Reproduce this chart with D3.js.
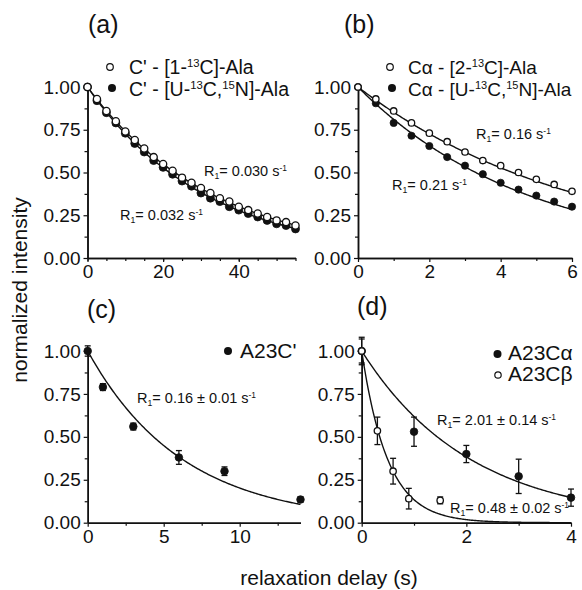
<!DOCTYPE html>
<html><head><meta charset="utf-8">
<script src="https://cdn.jsdelivr.net/npm/d3@7"></script>
<style>
body{margin:0;background:#fff}
svg{display:block}
text{font-family:"Liberation Sans",Arial,Helvetica,sans-serif;fill:#111}
</style>
</head><body>
<svg id="chart" width="582" height="590"></svg>
<script>
// ---------- data ----------
const tA = [0,2.5,5,7.5,10,12.5,15,17.5,20,22.5,25,27.5,30,32.5,35,37.5,40,42.5,45,47.5,50,52.5,55];
const aOpen   = [1.00,0.93,0.86,0.80,0.74,0.69,0.64,0.59,0.55,0.51,0.47,0.44,0.41,0.38,0.35,0.33,0.30,0.28,0.26,0.24,0.22,0.21,0.19];
const aFilled = [1.00,0.92,0.85,0.79,0.73,0.67,0.62,0.57,0.53,0.49,0.45,0.42,0.38,0.35,0.33,0.30,0.28,0.26,0.24,0.22,0.20,0.19,0.17];
const tB = [0,0.5,1,1.5,2,2.5,3,3.5,4,4.5,5,5.5,6];
const bOpen   = [1.00,0.93,0.86,0.79,0.73,0.68,0.62,0.57,0.54,0.50,0.46,0.43,0.39];
const bFilled = [1.00,0.905,0.79,0.715,0.655,0.59,0.54,0.49,0.44,0.40,0.365,0.33,0.30];
const tC = [0,1,3,6,9,14];
const cVal = [1.00,0.79,0.56,0.38,0.30,0.135];
const cErr = [0.03,0.02,0.02,0.04,0.025,0.015];
const tDalpha = [0,1,2,3,4];
const dAlpha = [1.00,0.53,0.40,0.27,0.146];
const dAlphaErr = [0.08,0.085,0.05,0.10,0.05];
const tDbeta = [0,0.3,0.6,0.9,1.5];
const dBeta = [1.00,0.535,0.30,0.14,0.13];
const dBetaErr = [0.07,0.08,0.075,0.06,0.02];
const ratesA = [0.030,0.032];
const ratesB = [0.16,0.21];
const rateC = [0.16];
const ratesD = [0.48,2.01];
const yMajor = [0,0.25,0.5,0.75,1];
const yMinor = [0.125,0.375,0.625,0.875];
const xTicksA = [0,20,40];
const xTicksB = [0,2,4,6];
const xTicksC = [0,5,10];
const xTicksD = [0,2,4];

// ---------- helpers ----------
const svg = d3.select("#chart");

function richText(g, x, y, parts, size, anchor) {
  const t = g.append("text").attr("x", x).attr("y", y).attr("font-size", size)
    .attr("text-anchor", anchor || "start");
  let off = 0;
  parts.forEach(p => {
    const s = typeof p === "string" ? {t:p} : p;
    let target = 0, fs = size;
    if (s.sup) { target = -size*0.36; fs = size*0.58; }
    if (s.sub) { target = size*0.22; fs = size*0.6; }
    t.append("tspan").attr("dy", target - off).attr("font-size", fs).text(s.t);
    off = target;
  });
  return t;
}

function panel(o) {
  const x = d3.scaleLinear().domain(o.xDomain).range([o.x0, o.x1]);
  const y = d3.scaleLinear().domain([0,1]).range([o.y0, o.y1]);
  const g = svg.append("g");
  const style = sel => {
    sel.attr("font-family", null).attr("font-size", null);
    sel.selectAll("path.domain").attr("stroke", "#111").attr("stroke-width", 1.5);
    sel.selectAll(".tick line").attr("stroke", "#111").attr("stroke-width", 1.2);
    sel.selectAll(".tick text").attr("font-size", 19).attr("fill", "#111");
  };
  g.append("g").attr("transform", `translate(0,${o.y0})`)
    .call(d3.axisBottom(x).tickValues(o.xMinor).tickSize(3).tickSizeOuter(0).tickFormat("")).call(style);
  g.append("g").attr("transform", `translate(0,${o.y0})`)
    .call(d3.axisBottom(x).tickValues(o.xMajor).tickSize(4).tickSizeOuter(0).tickPadding(3).tickFormat(d3.format("d"))).call(style);
  g.append("g").attr("transform", `translate(${o.x0},0)`)
    .call(d3.axisLeft(y).tickValues(yMinor).tickSize(3).tickSizeOuter(0).tickFormat("")).call(style);
  g.append("g").attr("transform", `translate(${o.x0},0)`)
    .call(d3.axisLeft(y).tickValues(yMajor).tickSize(4).tickSizeOuter(0).tickPadding(3).tickFormat(d3.format(".2f"))).call(style);
  return {x, y, g};
}

function fit(p, rate, tmax) {
  const pts = d3.range(0, tmax + 1e-9, tmax/200).map(t => [t, Math.exp(-rate*t)]);
  p.g.append("path").datum(pts)
    .attr("d", d3.line().x(d => p.x(d[0])).y(d => p.y(d[1])))
    .attr("fill", "none").attr("stroke", "#111").attr("stroke-width", 1.4);
}

function points(p, ts, vs, open, r) {
  p.g.append("g").selectAll("circle").data(ts).join("circle")
    .attr("cx", (d) => p.x(d)).attr("cy", (d,i) => p.y(vs[i])).attr("r", r)
    .attr("fill", open ? "#fff" : "#111").attr("stroke", "#111").attr("stroke-width", open ? 1.3 : 0.8);
}

function errbars(p, ts, vs, es) {
  const gg = p.g.append("g").attr("stroke", "#111").attr("stroke-width", 1.3);
  ts.forEach((t,i) => {
    const cx = p.x(t), yt = p.y(vs[i]+es[i]), yb = p.y(Math.max(0, vs[i]-es[i]));
    gg.append("line").attr("x1", cx).attr("x2", cx).attr("y1", yt).attr("y2", yb);
    gg.append("line").attr("x1", cx-3).attr("x2", cx+3).attr("y1", yt).attr("y2", yt);
    gg.append("line").attr("x1", cx-3).attr("x2", cx+3).attr("y1", yb).attr("y2", yb);
  });
}

function label(txt, x, y) {
  svg.append("text").attr("x", x).attr("y", y).attr("font-size", 25).text(txt);
}

function rLabel(p, x, y, val) {
  richText(p.g, x, y, ["R", {t:"1", sub:true}, "= " + val + " s", {t:"-1", sup:true}], 14.5).attr("fill", "#222");
}

// ---------- panel (a) ----------
const pa = panel({x0:87.5, x1:295.5, y0:258, y1:87, xDomain:[0,55], xMajor:xTicksA, xMinor:d3.range(0,56,5)});
fit(pa, ratesA[0], 55);
fit(pa, ratesA[1], 55);
points(pa, tA, aFilled, false, 4);
points(pa, tA, aOpen, true, 3.6);
rLabel(pa, 204, 176, ratesA[0].toFixed(3));
rLabel(pa, 120, 220, ratesA[1].toFixed(3));
label("(a)", 88, 33);
pa.g.append("circle").attr("cx",110).attr("cy",67).attr("r",3.3).attr("fill","#fff").attr("stroke","#111").attr("stroke-width",1.2);
pa.g.append("circle").attr("cx",112).attr("cy",88).attr("r",4).attr("fill","#111");
richText(pa.g, 129, 74, ["C' - [1-", {t:"13", sup:true}, "C]-Ala"], 19.5);
richText(pa.g, 129, 96, ["C' - [U-", {t:"13", sup:true}, "C,", {t:"15", sup:true}, "N]-Ala"], 19.5);

// ---------- panel (b) ----------
const pb = panel({x0:358, x1:572, y0:258, y1:87, xDomain:[0,6], xMajor:xTicksB, xMinor:[1,3,5]});
fit(pb, ratesB[0], 6);
fit(pb, ratesB[1], 6);
points(pb, tB, bFilled, false, 3.6);
points(pb, tB, bOpen, true, 3.2);
rLabel(pb, 476, 139, ratesB[0].toFixed(2));
rLabel(pb, 392, 190, ratesB[1].toFixed(2));
label("(b)", 344, 33);
pb.g.append("circle").attr("cx",390).attr("cy",67).attr("r",3.3).attr("fill","#fff").attr("stroke","#111").attr("stroke-width",1.2);
pb.g.append("circle").attr("cx",392).attr("cy",88).attr("r",4).attr("fill","#111");
richText(pb.g, 408, 74, ["C\u03b1 - [2-", {t:"13", sup:true}, "C]-Ala"], 19);
richText(pb.g, 408, 96, ["C\u03b1 - [U-", {t:"13", sup:true}, "C,", {t:"15", sup:true}, "N]-Ala"], 19);

// ---------- panel (c) ----------
const pc = panel({x0:87.7, x1:300.5, y0:522.7, y1:351, xDomain:[0,14], xMajor:xTicksC, xMinor:[2.5,7.5,12.5]});
fit(pc, rateC[0], 14);
errbars(pc, tC, cVal, cErr);
points(pc, tC, cVal, false, 3.8);
rLabel(pc, 137, 403, rateC[0].toFixed(2) + " \u00b1 0.01");
label("(c)", 87, 318);
pc.g.append("circle").attr("cx",228).attr("cy",351).attr("r",4).attr("fill","#111");
richText(pc.g, 240, 358, ["A23C'"], 21);

// ---------- panel (d) ----------
const pd = panel({x0:361.7, x1:571, y0:522.7, y1:351, xDomain:[0,4], xMajor:xTicksD, xMinor:[1,3]});
fit(pd, ratesD[0], 4);
fit(pd, ratesD[1], 4);
errbars(pd, tDalpha, dAlpha, dAlphaErr);
errbars(pd, tDbeta, dBeta, dBetaErr);
points(pd, tDalpha, dAlpha, false, 3.8);
points(pd, tDbeta, dBeta, true, 3.2);
rLabel(pd, 437, 425, ratesD[1].toFixed(2) + " \u00b1 0.14");
rLabel(pd, 450, 513, ratesD[0].toFixed(2) + " \u00b1 0.02");
label("(d)", 357, 315);
pd.g.append("circle").attr("cx",497.5).attr("cy",354).attr("r",4).attr("fill","#111");
pd.g.append("circle").attr("cx",498).attr("cy",375).attr("r",3.2).attr("fill","#fff").attr("stroke","#111").attr("stroke-width",1.2);
richText(pd.g, 508, 360, ["A23C\u03b1"], 21);
richText(pd.g, 508, 381, ["A23C\u03b2"], 21);

// ---------- axis titles ----------
svg.append("text").attr("transform", "translate(27,290) rotate(-90)")
  .attr("text-anchor", "middle").attr("font-size", 21).text("normalized intensity");
svg.append("text").attr("x", 329).attr("y", 585)
  .attr("text-anchor", "middle").attr("font-size", 21).text("relaxation delay (s)");
</script>
</body></html>
